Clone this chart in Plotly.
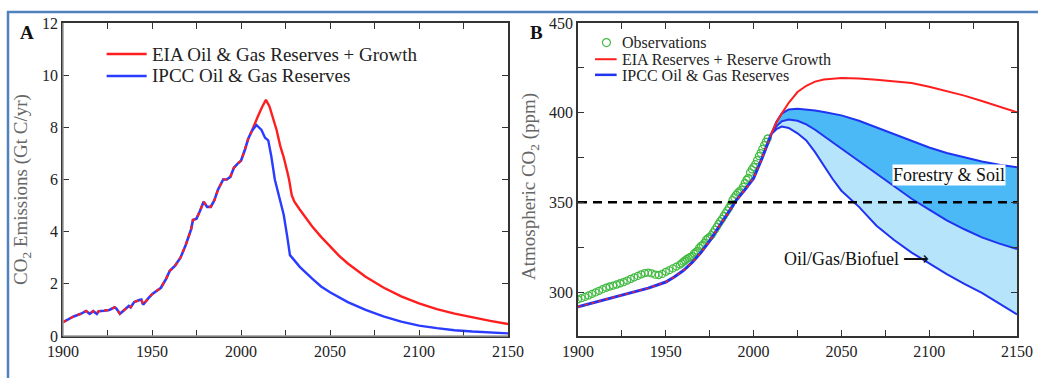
import plotly.graph_objects as go

W, H = 1038, 378
FONT = "Liberation Serif"

# ---------------- Panel A data (CO2 emissions, Gt C/yr) ----------------
hist_years_a = [1900, 1903, 1906, 1910, 1913, 1915, 1917, 1919, 1920, 1923, 1926, 1929, 1930, 1932,
                1934, 1937, 1938, 1940, 1943, 1944, 1945, 1946, 1948, 1950, 1952, 1955, 1958, 1960,
                1963, 1966, 1969, 1972, 1973, 1975, 1977, 1979, 1981, 1983, 1985, 1987, 1990, 1992,
                1994, 1996, 1998, 2000, 2002, 2004, 2006]
hist_emis_a = [0.53, 0.65, 0.75, 0.85, 0.96, 0.85, 0.95, 0.85, 0.95, 0.97, 1.0, 1.1, 1.05, 0.85,
               0.98, 1.15, 1.1, 1.3, 1.38, 1.4, 1.2, 1.3, 1.45, 1.6, 1.7, 1.85, 2.2, 2.5,
               2.7, 3.0, 3.5, 4.1, 4.45, 4.5, 4.8, 5.15, 4.95, 4.95, 5.2, 5.6, 6.0, 6.0,
               6.1, 6.45, 6.6, 6.72, 7.1, 7.55, 7.85]

eia_years_a = [2006, 2008, 2010, 2012, 2014, 2016, 2018, 2020, 2022, 2024, 2026, 2027, 2028.5, 2030,
               2033, 2036, 2040, 2045, 2050, 2055, 2060, 2070, 2080, 2090, 2100, 2110, 2120, 2130,
               2140, 2150]
eia_emis_a = [7.85, 8.2, 8.5, 8.8, 9.05, 8.8, 8.35, 7.9, 7.3, 6.85, 6.3, 6.0, 5.4, 5.15,
              4.85, 4.55, 4.2, 3.8, 3.42, 3.08, 2.78, 2.27, 1.86, 1.52, 1.25, 1.03, 0.86, 0.71,
              0.58, 0.46]

ipcc_years_a = [2006, 2008.7, 2011.5, 2013.5, 2015.3, 2017, 2019, 2022, 2024, 2026, 2027.5, 2030,
                2033, 2040, 2045, 2050, 2060, 2070, 2080, 2090, 2100, 2110, 2120, 2130, 2140, 2150]
ipcc_emis_a = [7.85, 8.09, 7.9, 7.6, 7.5, 6.9, 6.0, 5.15, 4.65, 3.8, 3.1, 2.9,
               2.65, 2.2, 1.9, 1.68, 1.3, 1.0, 0.75, 0.55, 0.4, 0.3, 0.22, 0.17, 0.13, 0.1]

# ---------------- Panel B data (atmospheric CO2, ppm) ----------------
obs_years = [1900, 1902, 1904, 1906, 1908, 1910, 1912, 1914, 1916, 1918, 1920, 1922, 1924, 1926,
             1928, 1930, 1932, 1934, 1936, 1938, 1940, 1942, 1944, 1946, 1948, 1950, 1952, 1954,
             1956, 1958, 1959, 1960, 1961, 1962, 1963, 1964, 1965, 1966, 1967, 1968, 1969, 1970,
             1971, 1972, 1973, 1974, 1975, 1976, 1977, 1978, 1979, 1980, 1981, 1982, 1983, 1984,
             1985, 1986, 1987, 1988, 1989, 1990, 1991, 1992, 1993, 1994, 1995, 1996, 1997, 1998,
             1999, 2000, 2001, 2002, 2003, 2004, 2005, 2006, 2007, 2008]
obs_ppm = [296.0, 296.6, 297.3, 298.1, 299.0, 299.8, 300.7, 301.6, 302.4, 303.1, 303.6, 304.2,
           304.9, 305.6, 306.4, 307.3, 308.2, 309.0, 309.9, 310.6, 310.8, 310.4, 309.7, 309.5,
           310.1, 311.3, 312.2, 313.2, 314.2, 315.3, 316.0, 316.9, 317.6, 318.5, 319.0, 319.6,
           320.0, 321.4, 322.2, 323.0, 324.6, 325.7, 326.3, 327.5, 329.2, 330.0, 330.8, 331.7,
           333.3, 334.8, 336.3, 338.0, 339.5, 340.8, 342.4, 344.0, 345.5, 347.0, 348.8, 351.2,
           352.8, 354.2, 355.4, 356.3, 357.1, 358.8, 360.8, 362.6, 363.7, 366.7, 368.4, 369.7,
           371.3, 373.5, 375.8, 377.5, 379.8, 381.9, 383.8, 385.6]

hist_years_b = [1900, 1910, 1920, 1925, 1930, 1940, 1950, 1955, 1960, 1965, 1970, 1975, 1980,
                1985, 1990, 1995, 2000, 2005, 2010]
hist_ppm_b = [291.8, 294.5, 297.0, 298.3, 299.6, 302.2, 305.6, 308.5, 312.0, 316.5, 322.0, 328.5,
              336.0, 343.5, 351.0, 357.0, 363.5, 375.0, 388.0]

eia_years_b = [2010, 2013, 2016, 2020, 2025, 2030, 2035, 2040, 2050, 2060, 2070, 2080, 2090,
               2100, 2110, 2120, 2130, 2140, 2150]
eia_ppm_b = [388.0, 394.5, 399.5, 405.5, 411.5, 415.0, 417.3, 418.5, 419.3, 419.1, 418.3, 417.5,
             416.5, 414.5, 412.0, 409.5, 406.5, 403.5, 400.2]

band_years = [2010, 2013, 2016, 2020, 2025, 2030, 2035, 2040, 2045, 2050, 2060, 2070, 2080, 2090,
              2100, 2110, 2120, 2130, 2140, 2150]
ipcc_upper = [388.0, 395.0, 399.5, 401.8, 402.2, 401.8, 401.2, 400.4, 399.5, 398.5, 395.5, 391.8,
              388.0, 384.2, 380.6, 377.5, 375.0, 372.8, 371.0, 369.6]
ipcc_middle = [388.0, 392.5, 395.2, 396.2, 395.5, 393.5, 390.5, 387.0, 383.5, 380.0, 373.0, 366.0,
               359.5, 352.0, 346.0, 340.0, 335.0, 330.5, 327.0, 324.0]
ipcc_lower = [388.0, 390.8, 392.3, 391.5, 388.5, 384.5, 378.0, 370.5, 363.0, 356.5, 347.5, 337.0,
              329.0, 322.0, 316.0, 310.0, 304.5, 299.5, 293.5, 287.5]

target_ppm = 350

RED = "#ff1e1e"
BLUE = "#2a3cff"
BLUE_B = "#1f33f0"
GREEN = "#44bb44"
DARK_FILL = "#4bb9f5"
LIGHT_FILL = "#b6e4fb"


def px(x):
    return x / W


def py(y):
    return 1 - y / H


fig = go.Figure()

# ---- Panel A traces ----
fig.add_trace(go.Scatter(x=hist_years_a, y=hist_emis_a, mode="lines", xaxis="x", yaxis="y",
                         line=dict(color=BLUE, width=2.6)))
fig.add_trace(go.Scatter(x=hist_years_a, y=hist_emis_a, mode="lines", xaxis="x", yaxis="y",
                         line=dict(color=RED, width=2.2, dash="4px,4px")))
fig.add_trace(go.Scatter(x=eia_years_a, y=eia_emis_a, mode="lines", xaxis="x", yaxis="y",
                         line=dict(color=RED, width=2.4)))
fig.add_trace(go.Scatter(x=ipcc_years_a, y=ipcc_emis_a, mode="lines", xaxis="x", yaxis="y",
                         line=dict(color=BLUE, width=2.4)))

# ---- Panel B traces ----
fig.add_trace(go.Scatter(x=band_years, y=ipcc_upper, mode="lines", xaxis="x2", yaxis="y2",
                         line=dict(color=BLUE_B, width=2)))
fig.add_trace(go.Scatter(x=band_years, y=ipcc_middle, mode="lines", xaxis="x2", yaxis="y2",
                         fill="tonexty", fillcolor=DARK_FILL, line=dict(color=BLUE_B, width=2)))
fig.add_trace(go.Scatter(x=band_years, y=ipcc_lower, mode="lines", xaxis="x2", yaxis="y2",
                         fill="tonexty", fillcolor=LIGHT_FILL, line=dict(color=BLUE_B, width=2)))
fig.add_trace(go.Scatter(x=eia_years_b, y=eia_ppm_b, mode="lines", xaxis="x2", yaxis="y2",
                         line=dict(color=RED, width=2)))
fig.add_trace(go.Scatter(x=obs_years, y=obs_ppm, mode="markers", xaxis="x2", yaxis="y2",
                         marker=dict(symbol="circle-open", size=7, color=GREEN,
                                     line=dict(color=GREEN, width=1.3))))
fig.add_trace(go.Scatter(x=hist_years_b, y=hist_ppm_b, mode="lines", xaxis="x2", yaxis="y2",
                         line=dict(color=BLUE_B, width=3)))
fig.add_trace(go.Scatter(x=hist_years_b, y=hist_ppm_b, mode="lines", xaxis="x2", yaxis="y2",
                         line=dict(color=RED, width=1.5, dash="3px,4px")))
fig.add_trace(go.Scatter(x=[1900, 2150], y=[target_ppm, target_ppm], mode="lines",
                         xaxis="x2", yaxis="y2",
                         line=dict(color="black", width=2.5, dash="9px,6px")))
# legend B observation marker
fig.add_trace(go.Scatter(x=[1916.2], y=[439.1], mode="markers", xaxis="x2", yaxis="y2",
                         marker=dict(symbol="circle-open", size=8, color=GREEN,
                                     line=dict(color=GREEN, width=1.2))))

tickfont = dict(family=FONT, size=16, color="#222")
axis_common = dict(ticks="inside", ticklen=6, tickcolor="#333", tickwidth=1.2,
                   showline=True, linecolor="#333", linewidth=1.5, mirror="ticks",
                   showgrid=False, zeroline=False, tickfont=tickfont, automargin=False)
minor_common = dict(ticks="inside", ticklen=6, tickcolor="#333", tickwidth=1.2, showgrid=False)

fig.update_layout(
    width=W, height=H,
    margin=dict(l=0, r=0, t=0, b=0),
    paper_bgcolor="white", plot_bgcolor="white",
    showlegend=False,
    xaxis=dict(domain=[px(63), px(508)], range=[1900, 2150], tick0=1900, dtick=50,
               minor=dict(dtick=25, **minor_common), anchor="y", **axis_common),
    yaxis=dict(domain=[py(336), py(23)], range=[0, 12], tick0=0, dtick=2,
               anchor="x", **axis_common),
    xaxis2=dict(domain=[px(578), px(1017)], range=[1900, 2150], tick0=1900, dtick=50,
                minor=dict(dtick=25, **minor_common), anchor="y2", **axis_common),
    yaxis2=dict(domain=[py(336), py(23)], range=[275.5, 450], tick0=300, dtick=50,
                minor=dict(tick0=300, dtick=25, **minor_common), anchor="x2", **axis_common),
)

shapes = []
# outer blue frame (left and top edges)
shapes.append(dict(type="line", xref="paper", yref="paper", x0=px(8), x1=px(8), y0=py(11), y1=py(380),
                   line=dict(color="#4f81bd", width=2.5)))
shapes.append(dict(type="line", xref="paper", yref="paper", x0=px(7), x1=px(1040), y0=py(12), y1=py(12),
                   line=dict(color="#4f81bd", width=2.5)))
# panel A: gray left and bottom axis lines
shapes.append(dict(type="line", xref="paper", yref="paper", x0=px(63), x1=px(63), y0=py(336), y1=py(23),
                   line=dict(color="#9a9a9a", width=1.5)))
shapes.append(dict(type="line", xref="paper", yref="paper", x0=px(63), x1=px(508), y0=py(336), y1=py(336),
                   line=dict(color="#9a9a9a", width=1.5)))
# legend A lines
shapes.append(dict(type="line", xref="x", yref="y", x0=1924.5, x1=1947, y0=10.81, y1=10.81,
                   line=dict(color=RED, width=2.5)))
shapes.append(dict(type="line", xref="x", yref="y", x0=1924.5, x1=1947, y0=9.97, y1=9.97,
                   line=dict(color=BLUE, width=2.5)))
# legend B lines
shapes.append(dict(type="line", xref="x2", yref="y2", x0=1909.7, x1=1922, y0=429.8, y1=429.8,
                   line=dict(color=RED, width=2)))
shapes.append(dict(type="line", xref="x2", yref="y2", x0=1909.7, x1=1922, y0=421.1, y1=421.1,
                   line=dict(color=BLUE_B, width=2.5)))
fig.update_layout(shapes=shapes)

ann = []
txt = dict(family=FONT, size=19, color="#222")
ann.append(dict(x=1948.9, y=10.81, xref="x", yref="y", text="EIA Oil &amp; Gas Reserves + Growth",
                showarrow=False, xanchor="left", yanchor="middle", font=txt))
ann.append(dict(x=1948.9, y=9.97, xref="x", yref="y", text="IPCC Oil &amp; Gas Reserves",
                showarrow=False, xanchor="left", yanchor="middle", font=txt))
txtb = dict(family=FONT, size=16, color="#222")
ann.append(dict(x=1923.9, y=439.3, xref="x2", yref="y2", text="Observations",
                showarrow=False, xanchor="left", yanchor="middle", font=txtb))
ann.append(dict(x=1923.9, y=429.8, xref="x2", yref="y2", text="EIA Reserves + Reserve Growth",
                showarrow=False, xanchor="left", yanchor="middle", font=txtb))
ann.append(dict(x=1923.9, y=420.8, xref="x2", yref="y2", text="IPCC Oil &amp; Gas Reserves",
                showarrow=False, xanchor="left", yanchor="middle", font=txtb))
ann.append(dict(x=2111.3, y=365.3, xref="x2", yref="y2", text="Forestry &amp; Soil",
                showarrow=False, xanchor="center", yanchor="middle", bgcolor="white", borderpad=0,
                font=dict(family=FONT, size=18, color="#111")))
ann.append(dict(x=2058.9, y=318.3, xref="x2", yref="y2", text="Oil/Gas/Biofuel ⟶",
                showarrow=False, xanchor="center", yanchor="middle",
                font=dict(family=FONT, size=18, color="#111")))
# axis titles
ann.append(dict(x=px(22), y=py(190), xref="paper", yref="paper", text="CO<sub>2</sub> Emissions (Gt C/yr)",
                showarrow=False, textangle=-90, xanchor="center", yanchor="middle",
                font=dict(family=FONT, size=19, color="#666")))
ann.append(dict(x=px(530), y=py(187), xref="paper", yref="paper", text="Atmospheric CO<sub>2</sub> (ppm)",
                showarrow=False, textangle=-90, xanchor="center", yanchor="middle",
                font=dict(family=FONT, size=19, color="#666")))
# panel letters
ann.append(dict(x=px(27), y=py(32), xref="paper", yref="paper", text="<b>A</b>", showarrow=False,
                xanchor="center", yanchor="middle", font=dict(family=FONT, size=19, color="#111")))
ann.append(dict(x=px(536), y=py(32), xref="paper", yref="paper", text="<b>B</b>", showarrow=False,
                xanchor="center", yanchor="middle", font=dict(family=FONT, size=19, color="#111")))
fig.update_layout(annotations=ann)

fig.write_html("out.html")
